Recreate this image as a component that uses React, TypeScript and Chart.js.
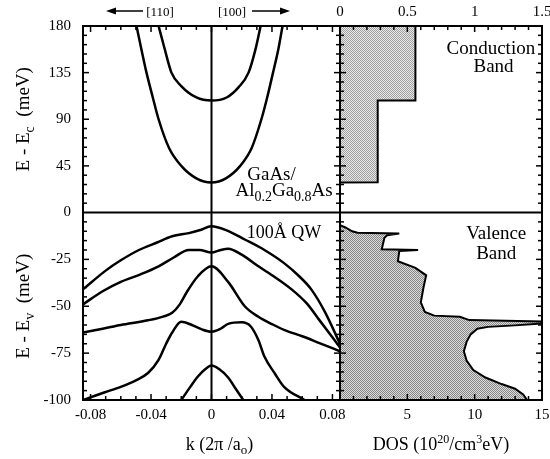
import React, { useEffect, useRef } from 'react';
import { Chart, registerables } from 'chart.js';

Chart.register(...registerables);

const FONT = '"Liberation Serif", "DejaVu Serif", "Times New Roman", serif';

// ---- tick labels ----
const kTicks = [-0.08, -0.04, 0, 0.04, 0.08];
const dosTicks = [5, 10, 15];
const dosTopTicks = [0, 0.5, 1, 1.5];
const ecTicks = [0, 45, 90, 135, 180];
const evTicks = [-25, -50, -75, -100];

// ---- conduction subbands (k in 2pi/a0, E - Ec in meV) ----
const cb1K = [-0.0496, -0.046, -0.043, -0.039, -0.035, -0.028, -0.02, -0.01, 0, 0.0095, 0.019, 0.0265, 0.033, 0.037, 0.0407, 0.044, 0.047];
const cb1E = [180, 155, 135, 112, 90, 62, 45, 33, 29, 33, 45, 62, 90, 112, 135, 156, 180];
const cb2K = [-0.035, -0.031, -0.0265, -0.02, -0.01, 0, 0.01, 0.018, 0.0245, 0.029, 0.0325];
const cb2E = [180, 158, 135, 122, 111, 108, 111, 121, 135, 157, 180];

// ---- valence subbands (E - Ev in meV) ----
const vb1K = [-0.085, -0.07, -0.06, -0.048, -0.036, -0.026, -0.015, -0.008, 0, 0.01, 0.022, 0.035, 0.048, 0.058, 0.066, 0.075, 0.085];
const vb1E = [-41, -31, -25.5, -20, -16, -12.7, -11, -9.5, -7.3, -9.5, -14.4, -20, -27, -34, -41, -53, -70];
const vb2K = [-0.085, -0.072, -0.06, -0.047, -0.035, -0.025, -0.015, -0.008, 0, 0.006, 0.011, 0.02, 0.031, 0.042, 0.053, 0.063, 0.071, 0.085];
const vb2E = [-49, -42, -37, -33, -28.7, -24, -20, -20, -21.4, -20, -19.3, -22.5, -28.7, -34.5, -41, -48.5, -57, -72];
const vb3K = [-0.085, -0.072, -0.06, -0.042, -0.032, -0.026, -0.021, -0.016, -0.009, 0, 0.011, 0.022, 0.031, 0.04, 0.048, 0.06, 0.071, 0.085];
const vb3E = [-64, -62, -60, -57.5, -55.5, -53.5, -49, -42, -34, -28.7, -37, -50, -55.6, -59.5, -62.6, -66, -69.5, -74];
const vb4K = [-0.085, -0.078, -0.071, -0.06, -0.05, -0.042, -0.035, -0.03, -0.026, -0.02, -0.013, -0.006, 0, 0.006, 0.011, 0.02, 0.026, 0.031, 0.035, 0.042, 0.048, 0.0615];
const vb4E = [-100, -98, -96, -93, -89.5, -85.6, -78.6, -70, -64, -58.3, -60, -62.5, -63.6, -62, -59.4, -58.6, -60.8, -68, -76.8, -86, -93, -100];
const vb5K = [-0.02, -0.014, -0.009, -0.004, 0, 0.005, 0.011, 0.016, 0.021];
const vb5E = [-100, -93, -87.5, -83.5, -81.6, -83.5, -88, -94, -100];

// ---- density of states ----
// conduction band DOS on top axis (0 - 1.5)
const dosCbVal = [0.56, 0.56, 0.28, 0.28, 0];
const dosCbE = [180, 108.2, 108, 29.2, 29];
// valence band DOS on bottom axis (0 - 15)
const dosVbVal = [0, 0.4, 0.9, 1.3, 4.4, 3.5, 3.3, 3.1, 5.8, 4.4, 4.3, 5.6, 6.4, 6.2, 6.0, 6.3, 7.0, 8.9, 9.6, 15.0, 15.0, 13.0, 11.0, 10.2, 9.7, 9.4, 9.2, 9.4, 9.9, 10.8, 12.0, 13.0, 13.6, 13.9];
const dosVbE = [-6.8, -8.0, -10.0, -10.8, -11.2, -12.2, -13.5, -19.6, -20.0, -20.6, -26, -29.5, -33.5, -40, -48, -53, -55, -55.6, -57.4, -58.2, -59.2, -60.2, -61, -62, -65, -69, -74, -79, -84, -88, -91.5, -94, -97, -100];

const pts = (xs: number[], ys: number[]) => xs.map((x, i) => ({ x, y: ys[i] }));

type Seg = { t: string; size: number; dy?: number };

function drawRich(ctx: CanvasRenderingContext2D, segs: Seg[], x: number, y: number, align: 'left' | 'center' | 'right') {
  let w = 0;
  for (const s of segs) {
    ctx.font = `${s.size}px ${FONT}`;
    w += ctx.measureText(s.t).width;
  }
  let cx = align === 'center' ? x - w / 2 : align === 'right' ? x - w : x;
  ctx.textAlign = 'left';
  ctx.textBaseline = 'alphabetic';
  for (const s of segs) {
    ctx.font = `${s.size}px ${FONT}`;
    ctx.fillText(s.t, cx, y + (s.dy || 0));
    cx += ctx.measureText(s.t).width;
  }
}

function makePattern(dark: string, light: string): CanvasPattern | string {
  const c = document.createElement('canvas');
  c.width = 2;
  c.height = 2;
  const g = c.getContext('2d');
  if (!g) return light;
  g.fillStyle = light;
  g.fillRect(0, 0, 2, 2);
  g.fillStyle = dark;
  g.fillRect(0, 0, 1, 1);
  g.fillRect(1, 1, 1, 1);
  const p = g.createPattern(c, 'repeat');
  return p || light;
}

const framePlugin = {
  id: 'frame',
  afterDatasetsDraw(chart: any) {
    const ctx: CanvasRenderingContext2D = chart.ctx;
    const { xk, xd, xdt, yc, yv } = chart.scales;
    const top = yc.top;
    const mid = yc.bottom;
    const bottom = yv.bottom;
    const L = xk.left;
    const M = xk.right;
    const R = xd.right;
    const seg = (x1: number, y1: number, x2: number, y2: number) => {
      ctx.beginPath();
      ctx.moveTo(x1, y1);
      ctx.lineTo(x2, y2);
      ctx.stroke();
    };
    ctx.save();
    ctx.strokeStyle = '#000';
    ctx.fillStyle = '#000';
    ctx.lineWidth = 2;
    ctx.strokeRect(L, top, M - L, bottom - top);
    ctx.strokeRect(xd.left, top, R - xd.left, bottom - top);
    seg(L, mid, R, mid);
    const x0 = xk.getPixelForValue(0);
    seg(x0, top, x0, bottom);

    // inward ticks
    ctx.lineWidth = 1.5;
    for (let i = -8; i <= 8; i++) {
      const px = xk.getPixelForValue(i / 100);
      const len = i % 4 === 0 ? 6 : 4;
      seg(px, bottom, px, bottom - len);
      seg(px, top, px, top + len);
    }
    for (let i = 1; i < 15; i++) {
      const px = xd.getPixelForValue(i);
      const len = i % 5 === 0 ? 6 : 4;
      seg(px, bottom, px, bottom - len);
      const pt = xdt.getPixelForValue(i / 10);
      seg(pt, top, pt, top + len);
    }
    const yTicks: number[] = [];
    const yMaj: boolean[] = [];
    for (let e = 9; e < 180; e += 9) {
      yTicks.push(yc.getPixelForValue(e));
      yMaj.push(e % 45 === 0);
    }
    for (let e = -5; e > -100; e -= 5) {
      yTicks.push(yv.getPixelForValue(e));
      yMaj.push(e % 25 === 0);
    }
    yTicks.forEach((py, i) => {
      const len = yMaj[i] ? 6 : 4;
      seg(L, py, L + len, py);
      seg(M, py, M - len, py);
      seg(xd.left, py, xd.left + len, py);
      seg(R, py, R - len, py);
    });

    // annotations inside panels
    drawRich(ctx, [{ t: 'Conduction', size: 19 }], xd.getPixelForValue(11.2), yc.getPixelForValue(153), 'center');
    drawRich(ctx, [{ t: 'Band', size: 19 }], xd.getPixelForValue(11.4), yc.getPixelForValue(135.5), 'center');
    drawRich(ctx, [{ t: 'Valence', size: 19 }], xd.getPixelForValue(11.6), yv.getPixelForValue(-14.4), 'center');
    drawRich(ctx, [{ t: 'Band', size: 19 }], xd.getPixelForValue(11.6), yv.getPixelForValue(-24.6), 'center');
    drawRich(ctx, [{ t: 'GaAs/', size: 19 }], xk.getPixelForValue(0.0397), yc.getPixelForValue(31), 'center');
    drawRich(
      ctx,
      [
        { t: 'Al', size: 19 },
        { t: '0.2', size: 14, dy: 5 },
        { t: 'Ga', size: 19 },
        { t: '0.8', size: 14, dy: 5 },
        { t: 'As', size: 19 },
      ],
      xk.getPixelForValue(0.048),
      yc.getPixelForValue(15.5),
      'center'
    );
    drawRich(ctx, [{ t: '100Å QW', size: 18 }], xk.getPixelForValue(0.048), yv.getPixelForValue(-13.4), 'center');

    // direction labels on top
    const ty = top - 15;
    drawRich(ctx, [{ t: '[110]', size: 13 }], 160, ty + 4.5, 'center');
    drawRich(ctx, [{ t: '[100]', size: 13 }], 232, ty + 4.5, 'center');
    ctx.lineWidth = 1.5;
    seg(109, ty, 143, ty);
    seg(252, ty, 286, ty);
    ctx.beginPath();
    ctx.moveTo(106, ty);
    ctx.lineTo(116, ty - 3.5);
    ctx.lineTo(116, ty + 3.5);
    ctx.closePath();
    ctx.fill();
    ctx.beginPath();
    ctx.moveTo(290, ty);
    ctx.lineTo(280, ty - 3.5);
    ctx.lineTo(280, ty + 3.5);
    ctx.closePath();
    ctx.fill();

    // axis titles
    const kx = (xk.left + xk.right) / 2 + 8;
    drawRich(
      ctx,
      [
        { t: 'k (2π /a', size: 18 },
        { t: 'o', size: 13, dy: 4 },
        { t: ')', size: 18 },
      ],
      kx,
      450,
      'center'
    );
    drawRich(
      ctx,
      [
        { t: 'DOS (10', size: 18 },
        { t: '20', size: 12, dy: -7 },
        { t: '/cm', size: 18 },
        { t: '3', size: 12, dy: -7 },
        { t: 'eV)', size: 18 },
      ],
      (xd.left + xd.right) / 2,
      450,
      'center'
    );
    const yTitle = (segs: Seg[], cy: number) => {
      ctx.save();
      ctx.translate(29, cy);
      ctx.rotate(-Math.PI / 2);
      drawRich(ctx, segs, 0, 0, 'center');
      ctx.restore();
    };
    yTitle(
      [
        { t: 'E - E', size: 19 },
        { t: 'c', size: 14, dy: 5 },
        { t: '  (meV)', size: 19 },
      ],
      (yc.top + yc.bottom) / 2
    );
    yTitle(
      [
        { t: 'E - E', size: 19 },
        { t: 'v', size: 14, dy: 5 },
        { t: '  (meV)', size: 19 },
      ],
      (yv.top + yv.bottom) / 2
    );
    ctx.restore();
  },
};

export default function App() {
  const ref = useRef<HTMLCanvasElement | null>(null);
  useEffect(() => {
    document.body.style.margin = '0';
    const canvas = ref.current;
    if (!canvas) return;
    const lightFill = makePattern('#a0a0a0', '#e8e8e8');
    const darkFill = makePattern('#888888', '#dadada');
    const tickFont = { family: FONT, size: 15 };
    const fixTicks = (vals: number[]) => (s: any) => {
      s.ticks = vals.map((v) => ({ value: v }));
    };
    const noPad = (w?: number, h?: number) => (s: any) => {
      if (w !== undefined) s.width = w;
      if (h !== undefined) s.height = h;
      s.paddingLeft = 0;
      s.paddingRight = 0;
      s.paddingTop = 0;
      s.paddingBottom = 0;
    };
    const common = {
      type: 'linear' as const,
      grid: { display: false, drawTicks: false },
      border: { display: false },
    };
    const band = (xs: number[], ys: number[], yAxisID: string) => ({
      data: pts(xs, ys),
      xAxisID: 'xk',
      yAxisID,
      borderColor: '#000',
      borderWidth: 2.5,
      pointRadius: 0,
      fill: false,
      cubicInterpolationMode: 'monotone' as const,
    });
    const chart = new Chart(canvas, {
      type: 'line',
      data: {
        datasets: [
          {
            data: pts(dosCbVal, dosCbE),
            xAxisID: 'xdt',
            yAxisID: 'yc',
            indexAxis: 'y',
            fill: 'origin',
            backgroundColor: lightFill as any,
            borderColor: '#000',
            borderWidth: 2,
            pointRadius: 0,
            tension: 0,
          } as any,
          {
            data: pts(dosVbVal, dosVbE),
            xAxisID: 'xd',
            yAxisID: 'yv',
            indexAxis: 'y',
            fill: 'origin',
            backgroundColor: darkFill as any,
            borderColor: '#000',
            borderWidth: 2,
            pointRadius: 0,
            tension: 0,
          } as any,
          band(cb1K, cb1E, 'yc'),
          band(cb2K, cb2E, 'yc'),
          band(vb1K, vb1E, 'yv'),
          band(vb2K, vb2E, 'yv'),
          band(vb3K, vb3E, 'yv'),
          band(vb4K, vb4E, 'yv'),
          band(vb5K, vb5E, 'yv'),
        ],
      },
      options: {
        animation: false,
        responsive: false,
        maintainAspectRatio: false,
        events: [],
        layout: { padding: { left: 0, right: 8, top: 0, bottom: 0 } },
        plugins: { legend: { display: false }, tooltip: { enabled: false } },
        scales: {
          yc: {
            ...common,
            axis: 'y',
            position: 'left',
            stack: 'e',
            stackWeight: 186,
            weight: 2,
            min: 0,
            max: 180,
            afterBuildTicks: fixTicks(ecTicks),
            afterFit: noPad(83, undefined),
            ticks: { font: tickFont, color: '#000', padding: 12, autoSkip: false, callback: (v: any) => `${v}` },
          },
          yv: {
            ...common,
            axis: 'y',
            position: 'left',
            stack: 'e',
            stackWeight: 187,
            weight: 1,
            min: -100,
            max: 0,
            afterBuildTicks: fixTicks(evTicks),
            afterFit: noPad(83, undefined),
            ticks: { font: tickFont, color: '#000', padding: 12, autoSkip: false, callback: (v: any) => `${v}` },
          },
          xk: {
            ...common,
            axis: 'x',
            position: 'bottom',
            stack: 'b',
            stackWeight: 257,
            weight: 1,
            min: -0.085,
            max: 0.085,
            afterBuildTicks: fixTicks(kTicks),
            afterFit: noPad(undefined, 59),
            ticks: { font: tickFont, color: '#000', padding: 6, autoSkip: false, maxRotation: 0, callback: (v: any) => `${v}` },
          },
          xd: {
            ...common,
            axis: 'x',
            position: 'bottom',
            stack: 'b',
            stackWeight: 202,
            weight: 2,
            min: 0,
            max: 15,
            afterBuildTicks: fixTicks(dosTicks),
            afterFit: noPad(undefined, 59),
            ticks: { font: tickFont, color: '#000', padding: 6, autoSkip: false, maxRotation: 0, callback: (v: any) => `${v}` },
          },
          xkt: {
            ...common,
            axis: 'x',
            position: 'top',
            stack: 't',
            stackWeight: 257,
            weight: 2,
            min: -0.085,
            max: 0.085,
            afterFit: noPad(undefined, 26),
            ticks: { display: false },
          },
          xdt: {
            ...common,
            axis: 'x',
            position: 'top',
            stack: 't',
            stackWeight: 202,
            weight: 1,
            min: 0,
            max: 1.5,
            afterBuildTicks: fixTicks(dosTopTicks),
            afterFit: noPad(undefined, 26),
            ticks: { font: tickFont, color: '#000', padding: 5, autoSkip: false, maxRotation: 0, callback: (v: any) => `${v}` },
          },
        },
      } as any,
      plugins: [framePlugin],
    });
    return () => chart.destroy();
  }, []);
  return (
    <div style={{ width: 550, height: 459, background: '#fff' }}>
      <canvas ref={ref} width={550} height={459} style={{ display: 'block' }} />
    </div>
  );
}
